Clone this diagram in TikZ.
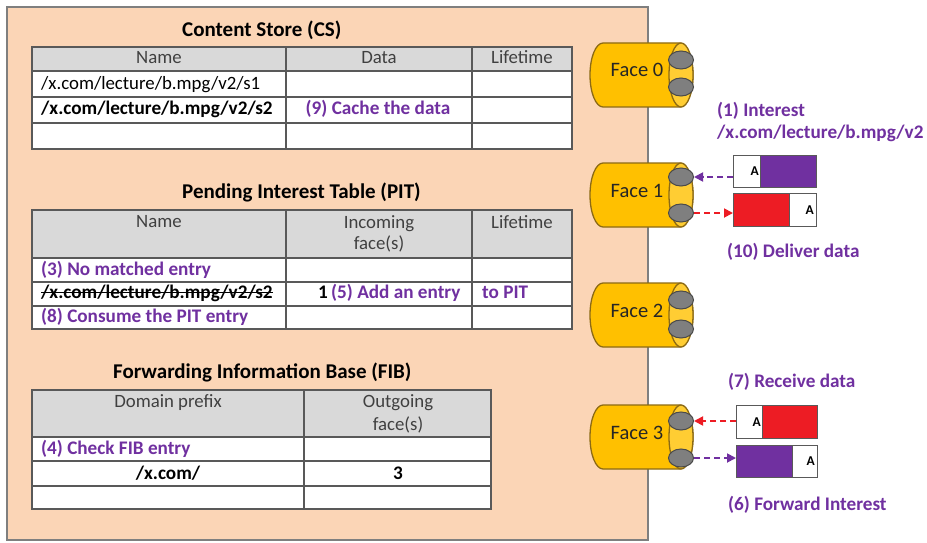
\documentclass[tikz,border=0pt]{standalone}
\usepackage{fontspec}
\setmainfont{Carlito}
\usetikzlibrary{arrows.meta,shapes.geometric}
\definecolor{peach}{HTML}{FBD5B6}
\definecolor{boxgray}{HTML}{7F7F7F}
\definecolor{hdr}{HTML}{D9D9D9}
\definecolor{gridc}{HTML}{595959}
\definecolor{hdrtext}{HTML}{404040}
\definecolor{purp}{HTML}{7030A0}
\definecolor{redc}{HTML}{ED1C24}
\definecolor{gold}{HTML}{FFC000}
\definecolor{goldline}{HTML}{8C6A14}
\definecolor{portgray}{HTML}{7F7F7F}
\definecolor{portline}{HTML}{4A4A4A}
\newcommand{\facecyl}[5]{%
  \pgfmathsetmacro{\fb}{#2+64}\pgfmathsetmacro{\fm}{#2+32}\pgfmathsetmacro{\fbl}{#2+34}%
  \draw[cylline, fill=gold] (680,#2) -- (603,#2)
     arc[start angle=270,end angle=90,x radius=13,y radius=32] -- (680,\fb)
     arc[start angle=90,end angle=-90,x radius=13,y radius=32] -- cycle;
  \draw[cylline, fill=gold!80!white] (681,\fm) ellipse[x radius=12,y radius=32];
  \node[port] (#1p1) at (681,#3) {};
  \node[port] (#1p2) at (681,#4) {};
  \node[facetext, anchor=base] (#1) at (637,\fbl) {#5};
}
\begin{document}
\begin{tikzpicture}[x=1pt,y=-1pt,
  gridl/.style={draw=gridc, line width=1.6pt},
  outerl/.style={draw=gridc, line width=2pt},
  tt/.style={font=\fontsize{18.8}{22}\selectfont, inner sep=0pt},
  hd/.style={tt, text=hdrtext, anchor=base},
  bt/.style={font=\fontsize{19.2}{22}\selectfont\bfseries, inner sep=0pt},
  pt/.style={bt, text=purp},
  title/.style={font=\fontsize{21}{24}\selectfont\bfseries, inner sep=0pt, anchor=base west},
  cylline/.style={draw=goldline, line width=1.3pt},
  port/.style={ellipse, draw=portline, fill=portgray, line width=1pt, minimum width=25pt, minimum height=18pt, inner sep=0pt},
  facetext/.style={font=\fontsize{20.5}{24}\selectfont, text=black!85, inner sep=0pt},
  pkt/.style={draw=gridc, line width=1pt, inner sep=0pt, anchor=north west},
  atext/.style={font=\fontsize{13.5}{16}\selectfont\bfseries, inner sep=0pt, anchor=east},
  darr/.style={line width=1.8pt, dash pattern=on 6pt off 4pt, -{Triangle[length=9pt,width=9pt]}}
]
\useasboundingbox (0,0) rectangle (927,543);
\fill[white] (0,0) rectangle (927,543);
\draw[draw=boxgray, line width=2pt, fill=peach] (7,7) rectangle (648,540);

% ---------- Content Store ----------
\node[title] (cstitle) at (182,37) {Content Store (CS)};
\fill[hdr] (32,47) rectangle (572,71);
\fill[white] (32,71) rectangle (572,149);
\draw[gridl] (32,71) -- (572,71) (32,97) -- (572,97) (32,123) -- (572,123)
  (286,47) -- (286,149) (472,47) -- (472,149);
\draw[outerl] (32,47) rectangle (572,149);
\node[hd] (csh1) at (159,64) {Name};
\node[hd] (csh2) at (379,64) {Data};
\node[hd] (csh3) at (522,64) {Lifetime};
\node[tt, anchor=base west] (csr1) at (41,89) {/x.com/lecture/b.mpg/v2/s1};
\node[bt, anchor=base west] (csr2) at (41,114) {/x.com/lecture/b.mpg/v2/s2};
\node[pt, anchor=base] (cs9) at (378,114) {(9) Cache the data};

% ---------- PIT ----------
\node[title] (pittitle) at (182,198) {Pending Interest Table (PIT)};
\fill[hdr] (32,210) rectangle (572,258);
\fill[white] (32,258) rectangle (572,329);
\draw[gridl] (32,258) -- (572,258) (32,282) -- (572,282) (32,306) -- (572,306)
  (286,210) -- (286,329) (472,210) -- (472,329);
\draw[outerl] (32,210) rectangle (572,329);
\node[hd] (pith1) at (159,227) {Name};
\node[hd] (pith2a) at (379,228) {Incoming};
\node[hd] (pith2b) at (379,249) {face(s)};
\node[hd] (pith3) at (522,228) {Lifetime};
\node[pt, anchor=base west] (pit3) at (41,275) {(3) No matched entry};
\node[bt, anchor=base west] (pitname) at (41,298) {/x.com/lecture/b.mpg/v2/s2};
\draw[line width=1.4pt] ([yshift=5.5pt]pitname.base west) -- ([yshift=5.5pt]pitname.base east);
\node[bt, anchor=base] (pitone) at (323,298) {1};
\node[pt, anchor=base west] (pit5) at (331,298) {(5) Add an entry};
\node[pt, anchor=base west] (pit5b) at (482,298) {to PIT};
\node[pt, anchor=base west] (pit8) at (41,322) {(8) Consume the PIT entry};

% ---------- FIB ----------
\node[title] (fibtitle) at (113,378) {Forwarding Information Base (FIB)};
\fill[hdr] (32,390) rectangle (491,437);
\fill[white] (32,437) rectangle (491,509);
\draw[gridl] (32,437) -- (491,437) (32,461) -- (491,461) (32,486) -- (491,486)
  (304,390) -- (304,509);
\draw[outerl] (32,390) rectangle (491,509);
\node[hd] (fibh1) at (168,407) {Domain prefix};
\node[hd] (fibh2a) at (398,407) {Outgoing};
\node[hd] (fibh2b) at (398,430) {face(s)};
\node[pt, anchor=base west] (fib4) at (41,454) {(4) Check FIB entry};
\node[bt, anchor=base] (fibx) at (168,479) {/x.com/};
\node[bt, anchor=base] (fib3) at (398,479) {3};

% ---------- Faces ----------
\facecyl{fa}{43}{60}{87}{Face 0}
\facecyl{fb}{163}{177}{213}{Face 1}
\facecyl{fc}{283}{300}{329}{Face 2}
\facecyl{fd}{405}{421}{458}{Face 3}

% ---------- Packets at Face 1 ----------
\node[pt, anchor=base west] (l1a) at (717,117) {(1) Interest};
\node[pt, anchor=base west] (l1b) at (717,138) {/x.com/lecture/b.mpg/v2};
\node[pkt, fill=white, minimum width=27pt, minimum height=32pt] (ia1) at (733,155) {};
\node[pkt, fill=purp, minimum width=56pt, minimum height=32pt] (ib1) at (760,155) {};
\node[atext] (ia1t) at ([xshift=-2pt]ia1.east) {A};
\node[pkt, fill=redc, minimum width=56pt, minimum height=33pt] (da1) at (733,193) {};
\node[pkt, fill=white, minimum width=27pt, minimum height=33pt] (db1) at (789,193) {};
\node[atext] (db1t) at ([xshift=-3pt]db1.east) {A};
\node[pt, anchor=base west] (l10) at (727,257) {(10) Deliver data};
\draw[darr, purp] (ia1.west |- fbp1) -- (fbp1.east);
\draw[darr, redc] (fbp2.east) -- (da1.west |- fbp2);

% ---------- Packets at Face 3 ----------
\node[pt, anchor=base west] (l7) at (728,387) {(7) Receive data};
\node[pkt, fill=white, minimum width=26pt, minimum height=33pt] (da3) at (736,405) {};
\node[pkt, fill=redc, minimum width=55pt, minimum height=33pt] (db3) at (762,405) {};
\node[atext] (da3t) at ([xshift=-2pt]da3.east) {A};
\node[pkt, fill=purp, minimum width=56pt, minimum height=32pt] (ia3) at (736,445) {};
\node[pkt, fill=white, minimum width=25pt, minimum height=32pt] (ib3) at (792,445) {};
\node[atext] (ib3t) at ([xshift=-3pt]ib3.east) {A};
\node[pt, anchor=base west] (l6) at (728,510) {(6) Forward Interest};
\draw[darr, redc] (da3.west |- fdp1) -- (fdp1.east);
\draw[darr, purp] (fdp2.east) -- (ia3.west |- fdp2);
\end{tikzpicture}
\end{document}
